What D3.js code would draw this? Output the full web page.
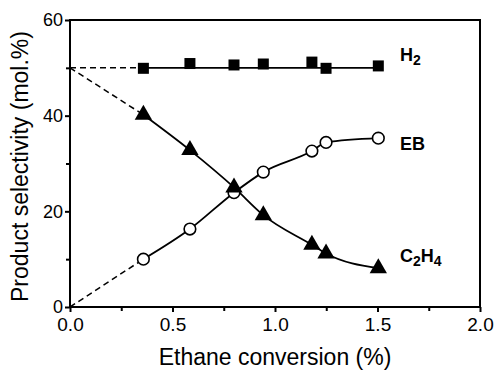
<!DOCTYPE html>
<html><head><meta charset="utf-8">
<script src="https://cdn.jsdelivr.net/npm/d3@7"></script>
<style>body{margin:0;background:#fff}svg{display:block}text{font-family:"Liberation Sans",Arial,Helvetica,sans-serif}</style>
</head><body>
<svg id="c" width="496" height="371"></svg>
<script>
const conversion = [0.358, 0.585, 0.80, 0.943, 1.18, 1.249, 1.504];
const h2 = [49.9, 50.9, 50.6, 50.8, 51.2, 49.9, 50.4];
const eb = [10.0, 16.3, 23.9, 28.2, 32.6, 34.4, 35.3];
const c2h4 = [40.2, 32.8, 25.0, 19.2, 13.0, 11.2, 8.1];
const xTicks = [0.0, 0.5, 1.0, 1.5, 2.0];
const yTicks = [0, 20, 40, 60];
const h2Fit = 50, c2h4Start = 50, ebStart = 0;
const labels = [
  {series: "h2", parts: [["H",0],["2",1]]},
  {series: "eb", parts: [["EB",0]]},
  {series: "c2h4", parts: [["C",0],["2",1],["H",0],["4",1]]}
];

const svg = d3.select("#c");
const L = 70, R = 480, T = 20, B = 307;
const x = d3.scaleLinear().domain([0, 2]).range([L, R]);
const y = d3.scaleLinear().domain([0, 60]).range([B, T]);

svg.append("rect").attr("x", L).attr("y", T).attr("width", R - L).attr("height", B - T)
  .attr("fill", "none").attr("stroke", "#000").attr("stroke-width", 2);

const xAxis = svg.append("g").attr("transform", `translate(0,${B})`)
  .call(d3.axisBottom(x).tickValues(xTicks).tickFormat(d3.format(".1f")).tickSize(5).tickPadding(6));
const xMinor = svg.append("g").attr("transform", `translate(0,${B})`)
  .call(d3.axisBottom(x).tickValues([0.25, 0.75, 1.25, 1.75]).tickFormat("").tickSize(4));
const yAxis = svg.append("g").attr("transform", `translate(${L},0)`)
  .call(d3.axisLeft(y).tickValues(yTicks).tickFormat(d3.format("d")).tickSize(5).tickPadding(2));
const yMinor = svg.append("g").attr("transform", `translate(${L},0)`)
  .call(d3.axisLeft(y).tickValues([10, 30, 50]).tickFormat("").tickSize(4));
[xAxis, xMinor, yAxis, yMinor].forEach(g => {
  g.select(".domain").remove();
  g.selectAll("line").attr("stroke", "#000").attr("stroke-width", 2);
});
xAxis.selectAll("text").attr("font-size", 19).attr("fill", "#000");
yAxis.selectAll("text").attr("font-size", 18).attr("fill", "#000");

svg.append("text").attr("x", (L + R) / 2).attr("y", 365).attr("text-anchor", "middle")
  .attr("font-size", 23).text("Ethane conversion (%)");
svg.append("text").attr("transform", `translate(28,${(T + B) / 2 + 3}) rotate(-90)`)
  .attr("text-anchor", "middle").attr("font-size", 23).text("Product selectivity (mol.%)");

const g = svg.append("g");
const dashed = [[h2Fit, h2Fit], [c2h4Start, c2h4[0]], [ebStart, eb[0]]];
dashed.forEach(([y0, y1]) => {
  g.append("line").attr("x1", x(0)).attr("y1", y(y0)).attr("x2", x(conversion[0])).attr("y2", y(y1))
    .attr("stroke", "#000").attr("stroke-width", 1.5).attr("stroke-dasharray", "6,4");
});
g.append("line").attr("x1", x(conversion[0])).attr("x2", x(conversion[conversion.length - 1]))
  .attr("y1", y(h2Fit)).attr("y2", y(h2Fit)).attr("stroke", "#000").attr("stroke-width", 1.8);
const line = d3.line().curve(d3.curveMonotoneX);
[eb, c2h4].forEach(s => {
  g.append("path").attr("d", line(conversion.map((c, i) => [x(c), y(s[i])])))
    .attr("fill", "none").attr("stroke", "#000").attr("stroke-width", 1.8);
});

const sq = 11;
g.selectAll(".sq").data(conversion).join("rect")
  .attr("x", (d) => x(d) - sq / 2).attr("y", (d, i) => y(h2[i]) - sq / 2)
  .attr("width", sq).attr("height", sq).attr("fill", "#000");
g.selectAll(".ci").data(conversion).join("circle")
  .attr("cx", d => x(d)).attr("cy", (d, i) => y(eb[i])).attr("r", 5.8)
  .attr("fill", "#fff").attr("stroke", "#000").attr("stroke-width", 1.6);
const tri = d3.symbol().type(d3.symbolTriangle).size(130);
g.selectAll(".tr").data(conversion).join("path")
  .attr("transform", (d, i) => `translate(${x(d)},${y(c2h4[i])})`)
  .attr("d", tri()).attr("fill", "#000");

const labelY = {h2: 61, eb: 150, c2h4: 262};
labels.forEach(lb => {
  const t = svg.append("text").attr("x", 400).attr("y", labelY[lb.series])
    .attr("font-size", 18).attr("font-weight", "bold");
  lb.parts.forEach(([s, sub], i) => {
    t.append("tspan").text(s).attr("font-size", sub ? 14 : 18).attr("dy", sub ? 4 : (i > 0 ? -4 : 0));
  });
});
</script>
</body></html>
